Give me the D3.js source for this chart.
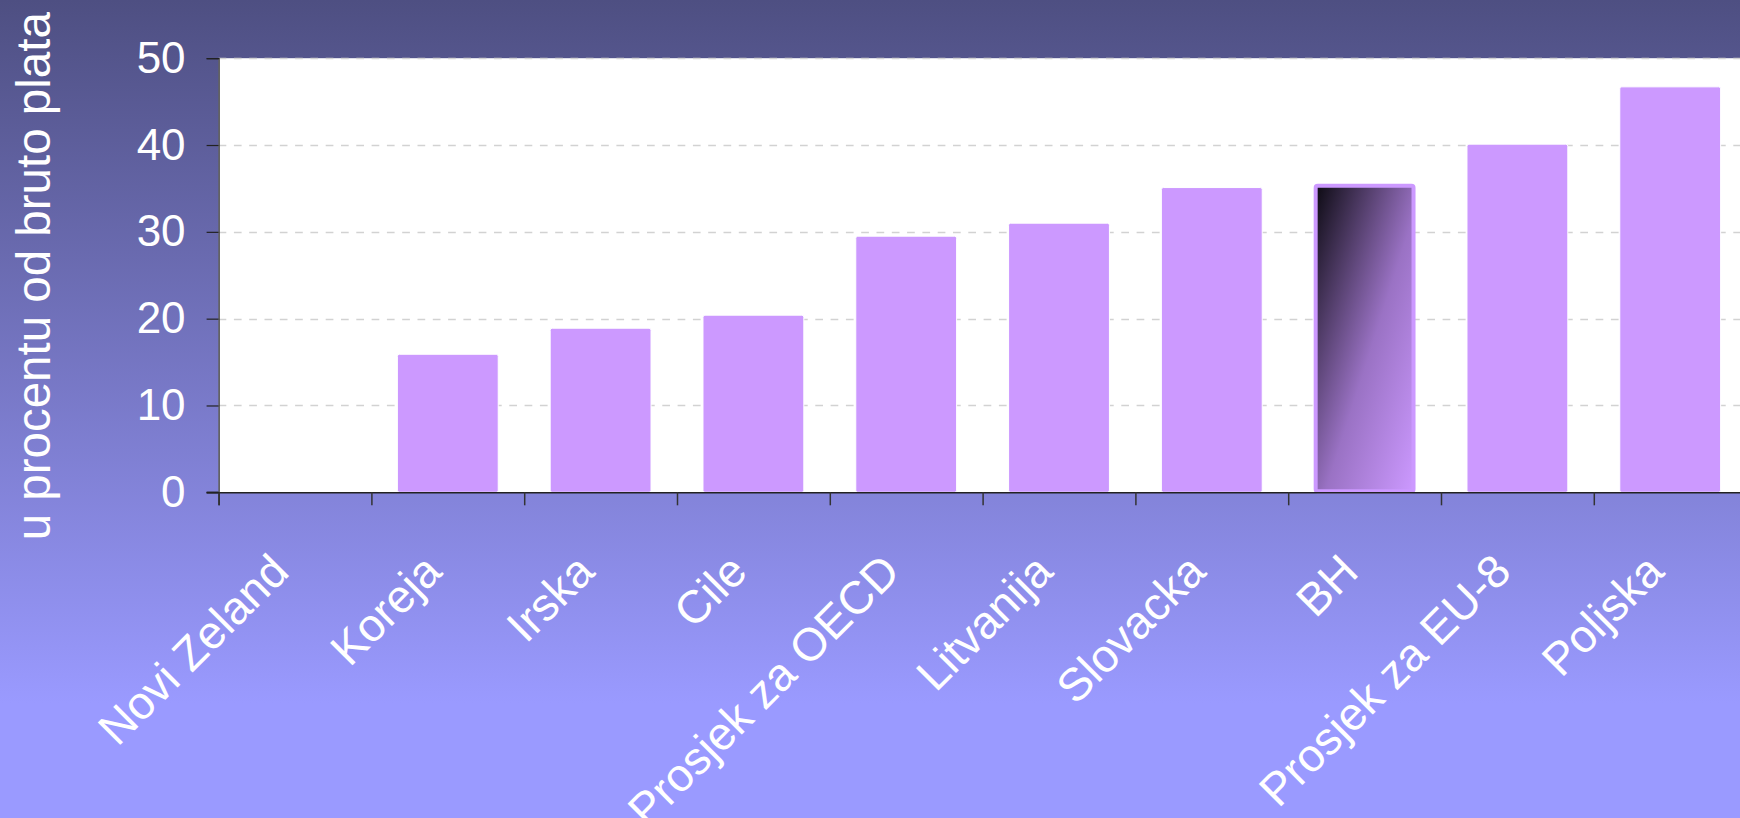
<!DOCTYPE html>
<html>
<head>
<meta charset="utf-8">
<script src="https://cdn.jsdelivr.net/npm/d3@7"></script>
<style>
  html, body { margin: 0; padding: 0; overflow: hidden; }
  svg { display: block; }
  text { font-family: "Liberation Sans", Arial, sans-serif; }
</style>
</head>
<body>
<svg id="chart" width="1740" height="818"></svg>
<script>
// ---- data ----
const categories = ["Novi Zeland", "Koreja", "Irska", "Cile", "Prosjek za OECD",
                    "Litvanija", "Slovacka", "BH", "Prosjek za EU-8", "Poljska"];
const values = [0, 15.9, 18.9, 20.4, 29.5, 31.0, 35.1, 35.3, 40.1, 46.7];
const highlighted = ["BH"];
const yTicks = [0, 10, 20, 30, 40, 50];
const yTitle = "u procentu od bruto plata";

// ---- layout ----
const W = 1740, H = 818;
const plotLeft = 218.6, plotRight = 1746.6, plotTop = 58.2, plotBottom = 492.3;

const svg = d3.select("#chart");
const defs = svg.append("defs");

const bgGrad = defs.append("linearGradient").attr("id", "bg")
  .attr("x1", 0).attr("y1", 0).attr("x2", 0).attr("y2", 1);
bgGrad.append("stop").attr("offset", "0").attr("stop-color", "#4e4f82");
bgGrad.append("stop").attr("offset", "0.86").attr("stop-color", "#9a9aff");
bgGrad.append("stop").attr("offset", "1").attr("stop-color", "#9a9aff");

const hiGrad = defs.append("linearGradient").attr("id", "hi")
  .attr("x1", 0).attr("y1", 0).attr("x2", 1).attr("y2", 1);
hiGrad.append("stop").attr("offset", "0").attr("stop-color", "#0c0a12");
hiGrad.append("stop").attr("offset", "0.55").attr("stop-color", "#9a72c4");
hiGrad.append("stop").attr("offset", "1").attr("stop-color", "#cc99ff");

svg.append("rect").attr("width", W).attr("height", H).attr("fill", "url(#bg)");

const x = d3.scaleBand().domain(categories)
  .range([plotLeft, plotRight]).paddingInner(0.34).paddingOuter(0.17);
const xIdx = d3.scaleLinear().domain([0, categories.length]).range([plotLeft, plotRight]);
const y = d3.scaleLinear().domain([0, 50]).range([plotBottom, plotTop]);

// plot background
svg.append("rect")
  .attr("x", plotLeft).attr("y", y(50))
  .attr("width", plotRight - plotLeft).attr("height", y(0) - y(50))
  .attr("fill", "#ffffff");

// gridlines
svg.append("g").selectAll("line").data(yTicks.filter(d => d > 0)).join("line")
  .attr("x1", plotLeft).attr("x2", plotRight)
  .attr("y1", d => Math.round(y(d)) + 0.5).attr("y2", d => Math.round(y(d)) + 0.5)
  .attr("stroke", "#d2d2d2").attr("stroke-width", 1.7)
  .attr("stroke-dasharray", "7.7,7.6");

// bars
const data = categories.map((c, i) => ({ c, v: values[i] }));
svg.append("g").selectAll("rect").data(data.filter(d => d.v > 0)).join("rect")
  .attr("x", d => highlighted.includes(d.c) ? x(d.c) + 1.5 : x(d.c))
  .attr("width", d => highlighted.includes(d.c) ? x.bandwidth() - 3 : x.bandwidth())
  .attr("y", d => y(d.v))
  .attr("height", d => y(0) - y(d.v) + (highlighted.includes(d.c) ? -1 : 0))
  .attr("rx", 2).attr("ry", 2)
  .attr("fill", d => highlighted.includes(d.c) ? "url(#hi)" : "#cc99ff")
  .attr("stroke", d => highlighted.includes(d.c) ? "#cc99ff" : "#ffffff")
  .attr("stroke-width", d => highlighted.includes(d.c) ? 4 : 1);

// y axis
const yAxis = svg.append("g")
  .attr("transform", `translate(${plotLeft},0)`)
  .call(d3.axisLeft(y).tickValues(yTicks).tickSize(12).tickPadding(21).tickFormat(d3.format("d")));
yAxis.select(".domain").attr("stroke", "#222").attr("stroke-width", 1.2);
yAxis.selectAll(".tick line").attr("stroke", "#222").attr("stroke-width", 1.2);
yAxis.selectAll(".tick text").attr("fill", "#ffffff").attr("font-size", 44)
  .attr("font-family", "\"Liberation Sans\", Arial, sans-serif");

// x axis
const xAxis = svg.append("g")
  .attr("transform", `translate(0,${plotBottom})`)
  .call(d3.axisBottom(xIdx).tickValues(d3.range(categories.length)).tickSize(13).tickFormat(""));
xAxis.select(".domain").attr("stroke", "#222").attr("stroke-width", 1.5);
xAxis.selectAll(".tick line").attr("stroke", "#333").attr("stroke-width", 1.5);
svg.append("line")
  .attr("x1", plotLeft - 12).attr("x2", plotLeft)
  .attr("y1", plotBottom).attr("y2", plotBottom)
  .attr("stroke", "#222").attr("stroke-width", 1.5);

// x labels
svg.append("g").selectAll("text").data(categories).join("text")
  .attr("transform", d => `translate(${x(d) + x.bandwidth() / 2 - 4},574) rotate(-45)`)
  .attr("text-anchor", "end")
  .attr("fill", "#ffffff")
  .attr("font-size", 46)
  .text(d => d);

// y title
svg.append("text")
  .attr("transform", `translate(50,${(plotTop + plotBottom) / 2 + 1}) rotate(-90)`)
  .attr("text-anchor", "middle")
  .attr("fill", "#ffffff")
  .attr("font-size", 47.5)
  .text(yTitle);
</script>
</body>
</html>
